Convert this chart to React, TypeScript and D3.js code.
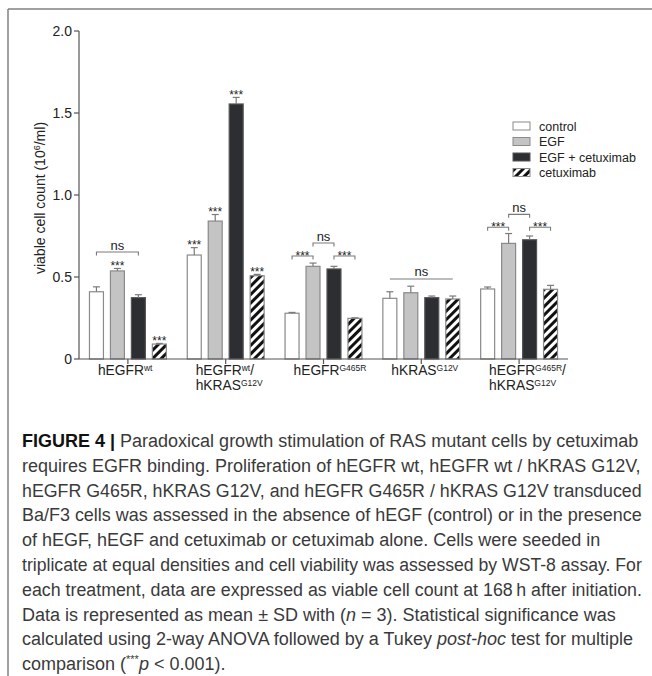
import React, { useRef, useEffect } from 'react';
import * as d3 from 'd3';

// groups (cell lines) and treatments
const groups = ['hEGFR wt', 'hEGFR wt / hKRAS G12V', 'hEGFR G465R', 'hKRAS G12V', 'hEGFR G465R / hKRAS G12V'];
const series = ['control', 'EGF', 'EGF + cetuximab', 'cetuximab'];

// x labels: [base, superscript, suffix] per line
const groupLabels = [
  [['hEGFR', 'wt', '']],
  [['hEGFR', 'wt', '/'], ['hKRAS', 'G12V', '']],
  [['hEGFR', 'G465R', '']],
  [['hKRAS', 'G12V', '']],
  [['hEGFR', 'G465R', '/'], ['hKRAS', 'G12V', '']],
];

// viable cell count (10^6/ml), mean and SD
const controlMean = [0.41, 0.634, 0.279, 0.37, 0.427];
const controlSd = [0.03, 0.045, 0.005, 0.04, 0.012];
const egfMean = [0.537, 0.841, 0.565, 0.404, 0.705];
const egfSd = [0.015, 0.04, 0.02, 0.04, 0.06];
const egfCetuxMean = [0.374, 1.555, 0.549, 0.374, 0.727];
const egfCetuxSd = [0.018, 0.04, 0.016, 0.01, 0.023];
const cetuxMean = [0.091, 0.508, 0.248, 0.366, 0.425];
const cetuxSd = [0.004, 0.008, 0.003, 0.018, 0.024];

const means = [controlMean, egfMean, egfCetuxMean, cetuxMean];
const sds = [controlSd, egfSd, egfCetuxSd, cetuxSd];

const yTicks = [0, 0.5, 1.0, 1.5, 2.0];
const yTickLabels = ['0', '0.5', '1.0', '1.5', '2.0'];

// *** over single bars: [group, series]
const starBars = [[0, 1], [0, 3], [1, 0], [1, 1], [1, 2], [1, 3]];

// comparison brackets: group, from series, to series, level, label, ticks
const brackets = [
  { g: 0, a: 0, b: 2, v: 0.652, label: 'ns', ticks: true },
  { g: 2, a: 0, b: 1, v: 0.628, label: '***', ticks: true },
  { g: 2, a: 1, b: 2, v: 0.707, label: 'ns', ticks: true },
  { g: 2, a: 2, b: 3, v: 0.628, label: '***', ticks: true },
  { g: 3, a: 0, b: 3, v: 0.488, label: 'ns', ticks: false },
  { g: 4, a: 0, b: 1, v: 0.803, label: '***', ticks: true },
  { g: 4, a: 1, b: 2, v: 0.882, label: 'ns', ticks: true },
  { g: 4, a: 2, b: 3, v: 0.803, label: '***', ticks: true },
];

type Seg = { t: string; b?: boolean; i?: boolean; sup?: boolean };
const caption: Seg[][] = [
  [{ t: 'FIGURE 4 | ', b: true }, { t: 'Paradoxical growth stimulation of RAS mutant cells by cetuximab' }],
  [{ t: 'requires EGFR binding. Proliferation of hEGFR wt, hEGFR wt / hKRAS G12V,' }],
  [{ t: 'hEGFR G465R, hKRAS G12V, and hEGFR G465R / hKRAS G12V transduced' }],
  [{ t: 'Ba/F3 cells was assessed in the absence of hEGF (control) or in the presence' }],
  [{ t: 'of hEGF, hEGF and cetuximab or cetuximab alone. Cells were seeded in' }],
  [{ t: 'triplicate at equal densities and cell viability was assessed by WST-8 assay. For' }],
  [{ t: 'each treatment, data are expressed as viable cell count at 168\u2009h after initiation.' }],
  [{ t: 'Data is represented as mean \u00b1 SD with (' }, { t: 'n', i: true }, { t: ' = 3). Statistical significance was' }],
  [{ t: 'calculated using 2-way ANOVA followed by a Tukey ' }, { t: 'post-hoc', i: true }, { t: ' test for multiple' }],
  [{ t: 'comparison (' }, { t: '***', sup: true }, { t: 'p', i: true }, { t: ' < 0.001).' }],
];

const font = "'Liberation Sans', Arial, Helvetica, sans-serif";
const fills = ['#ffffff', '#c4c4c4', '#2c2e31', 'url(#hatch)'];
const edge = '#8a8a8a';
const captionSize = 18;
const captionMax = 620;

export default function App() {
  const captionRef = useRef<SVGGElement>(null);

  const x0 = d3.scaleBand<string>().domain(groups).range([79, 568]).paddingInner(0.214).paddingOuter(0.107);
  const x1 = d3.scaleBand<string>().domain(series).range([0, x0.bandwidth()]).paddingInner(1 / 3);
  const y = d3.scaleLinear().domain([0, 2]).range([359, 31]);
  const bw = x1.bandwidth();
  const barX = (g: number, s: number) => (x0(groups[g]) as number) + (x1(series[s]) as number);
  const barC = (g: number, s: number) => barX(g, s) + bw / 2;
  const gc = (g: number) => (x0(groups[g]) as number) + x0.bandwidth() / 2;

  // shrink caption lines that would run past the right edge
  useEffect(() => {
    if (!captionRef.current) return;
    d3.select(captionRef.current).selectAll<SVGTextElement, unknown>('text').each(function () {
      const len = this.getComputedTextLength();
      if (len > captionMax) {
        d3.select(this).attr('font-size', (captionSize * captionMax) / len);
      }
    });
  }, []);

  return (
    <svg width={652} height={676} style={{ position: 'absolute', left: 0, top: 0, display: 'block', background: '#fff' }}
      fontFamily={font}>
      <defs>
        <pattern id="hatch" patternUnits="userSpaceOnUse" width={6} height={6} patternTransform="rotate(45)">
          <rect width={6} height={6} fill="#fff" />
          <line x1={1.5} y1={0} x2={1.5} y2={6} stroke="#111" strokeWidth={3} />
        </pattern>
      </defs>

      {/* frame */}
      <line x1={8} y1={9} x2={652} y2={9} stroke="#808080" strokeWidth={1.5} />
      <line x1={8} y1={9} x2={8} y2={676} stroke="#808080" strokeWidth={1.5} />

      {/* bars */}
      {means.map((vals, s) =>
        vals.map((v, g) => (
          <rect key={`b${s}-${g}`} x={barX(g, s)} y={y(v)} width={bw} height={y(0) - y(v)}
            fill={fills[s]} stroke={s === 2 ? '#555' : edge} strokeWidth={1.2} />
        ))
      )}

      {/* error bars (upper only) */}
      {means.map((vals, s) =>
        vals.map((v, g) => {
          const cx = barC(g, s);
          const top = y(v + sds[s][g]);
          return (
            <g key={`e${s}-${g}`} stroke="#7a7a7a" strokeWidth={1.2}>
              <line x1={cx} x2={cx} y1={y(v)} y2={top} />
              <line x1={cx - 3.5} x2={cx + 3.5} y1={top} y2={top} />
            </g>
          );
        })
      )}

      {/* stars over bars */}
      {starBars.map(([g, s], i) => (
        <text key={`s${i}`} x={barC(g, s)} y={y(means[s][g] + sds[s][g]) + 1.5} fontSize={12}
          textAnchor="middle" fill="#222">***</text>
      ))}

      {/* brackets */}
      {brackets.map((br, i) => {
        const xa = barC(br.g, br.a);
        const xb = barC(br.g, br.b);
        const yy = y(br.v);
        const d = br.ticks ? `M${xa},${yy + 3.5}V${yy}H${xb}V${yy + 3.5}` : `M${xa},${yy}H${xb}`;
        const isNs = br.label === 'ns';
        return (
          <g key={`k${i}`}>
            <path d={d} fill="none" stroke="#7a7a7a" strokeWidth={1.1} />
            <text x={(xa + xb) / 2} y={isNs ? yy - 2.5 : yy + 3.5} fontSize={isNs ? 13 : 12}
              textAnchor="middle" fill="#222">{br.label}</text>
          </g>
        );
      })}

      {/* axes */}
      <line x1={79} x2={79} y1={y(2)} y2={y(0)} stroke="#555" strokeWidth={1.2} />
      <line x1={79} x2={568} y1={y(0)} y2={y(0)} stroke="#555" strokeWidth={1.2} />
      {yTicks.map((t, i) => (
        <g key={`yt${i}`}>
          <line x1={74} x2={79} y1={y(t)} y2={y(t)} stroke="#555" strokeWidth={1.2} />
          <text x={72} y={y(t) + 5} fontSize={14} textAnchor="end" fill="#222">{yTickLabels[i]}</text>
        </g>
      ))}
      {groups.map((g, i) => (
        <line key={`xt${i}`} x1={gc(i)} x2={gc(i)} y1={y(0)} y2={y(0) + 5} stroke="#555" strokeWidth={1.2} />
      ))}

      {/* y label */}
      <text transform="translate(45,198) rotate(-90)" fontSize={14} textAnchor="middle" fill="#222">
        viable cell count (10<tspan dy={-5} fontSize={9}>6</tspan><tspan dy={5}>/ml)</tspan>
      </text>

      {/* x labels */}
      {groupLabels.map((lines, g) => (
        <g key={`xl${g}`}>
          {lines.map(([base, sup, suf], li) => (
            <text key={li} x={gc(g) - 30} y={375 + li * 15} fontSize={13.8} fill="#222">
              {base}<tspan dy={-4.5} fontSize={8.5}>{sup}</tspan>
              {suf ? <tspan dy={4.5}>{suf}</tspan> : null}
            </text>
          ))}
        </g>
      ))}

      {/* legend */}
      {series.map((s, i) => (
        <g key={`lg${i}`} transform={`translate(513,${122 + i * 15.5})`}>
          <rect x={0} y={0} width={17} height={8} fill={fills[i]} stroke={i === 2 ? '#555' : edge} strokeWidth={1} />
          <text x={26} y={8.5} fontSize={12.5} fill="#222">{s}</text>
        </g>
      ))}

      {/* caption */}
      <g ref={captionRef}>
        {caption.map((segs, li) => (
          <text key={`c${li}`} x={22} y={447 + li * 24.8} fontSize={captionSize} fill="#3a3a3a">
            {segs.map((sg, k) => (
              <tspan key={k} fontWeight={sg.b ? 'bold' : 'normal'} fontStyle={sg.i ? 'italic' : 'normal'}
                fontSize={sg.sup ? 11 : undefined} dy={sg.sup ? -7 : (k > 0 && segs[k - 1].sup ? 7 : undefined)}
                fill={sg.b ? '#111' : undefined}>{sg.t}</tspan>
            ))}
          </text>
        ))}
      </g>
    </svg>
  );
}
